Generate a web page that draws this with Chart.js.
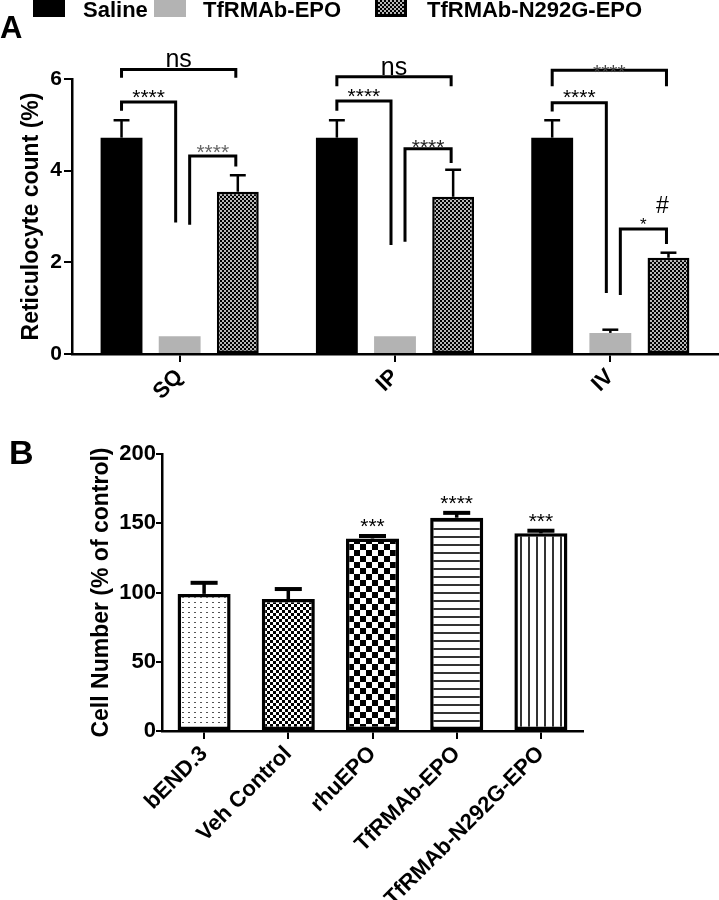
<!DOCTYPE html>
<html>
<head>
<meta charset="utf-8">
<script src="https://cdn.jsdelivr.net/npm/chart.js@4"></script>
<style>
  body { margin: 0; background: #fff; width: 719px; height: 900px; overflow: hidden; position: relative; font-family: "Liberation Sans", Arial, sans-serif; }
  .panel { position: absolute; left: 0; width: 719px; }
  #wrapA { top: 0; height: 400px; }
  #wrapB { top: 400px; height: 500px; }
  .tag { position: absolute; font-weight: bold; color: #000; line-height: 1; }
</style>
</head>
<body>
<div class="panel" id="wrapA"><canvas id="chartA"></canvas></div>
<div class="panel" id="wrapB"><canvas id="chartB"></canvas></div>
<div class="tag" style="left:0;top:12px;font-size:31px">A</div>
<div class="tag" style="left:9px;top:435px;font-size:34px">B</div>
<script>
const FONT = '"Liberation Sans", Arial, sans-serif';

// panel A: reticulocyte count (%)
const routes = ["SQ", "IP", "IV"];
const salineMean = [4.72, 4.72, 4.72];
const salineSem = [0.38, 0.38, 0.38];
const tfrEpoMean = [0.39, 0.39, 0.46];
const tfrEpoSem = [0, 0, 0.07];
const n292gMean = [3.54, 3.43, 2.10];
const n292gSem = [0.36, 0.59, 0.11];

// [route, from bar, to bar, top, left leg end, right leg end, label]
const bracketsA = [
  [0, 0, 2, 6.21, 6.03, 6.03, "ns"],
  [0, 0, 1, 5.50, 5.31, 2.87, "****"],
  [0, 1, 2, 4.32, 2.82, 4.09, "****"],
  [1, 0, 2, 6.05, 5.84, 5.84, "ns"],
  [1, 0, 1, 5.52, 5.31, 2.38, "****"],
  [1, 1, 2, 4.48, 2.45, 4.17, "****"],
  [2, 0, 2, 6.19, 5.84, 5.84, "****"],
  [2, 0, 1, 5.48, 5.29, 1.33, "****"],
  [2, 1, 2, 2.73, 1.29, 2.40, "*"],
];
const bracketLabelDy = [-2, 2, 3, -2, 2, 5, 9, 1, 1];
const bracketLabelColor = ["#000", "#000", "#666", "#000", "#000", "#222", "#444", "#000", "#000"];
// [route, bar, baseline value, label]
const marksA = [[2, 2, 3.08, "#"]];

// panel B: cell number (% of control)
const cellGroups = ["bEND.3", "Veh Control", "rhuEPO", "TfRMAb-EPO", "TfRMAb-N292G-EPO"];
const cellMean = [99, 95.3, 139, 154, 142.7];
const cellSem = [8, 7.2, 1.8, 3.5, 1.9];
const cellStars = ["", "", "***", "****", "***"];

function makePattern(w, h, bg, draw) {
  const c = document.createElement("canvas");
  c.width = w; c.height = h;
  const g = c.getContext("2d");
  g.fillStyle = bg; g.fillRect(0, 0, w, h);
  g.fillStyle = "#000";
  draw(g);
  return g.createPattern(c, "repeat");
}
const checkerA = makePattern(4, 4, "#b8b8b8", g => { g.fillRect(0, 0, 2, 2); g.fillRect(2, 2, 2, 2); });
const dotsB = makePattern(6, 5, "#fff", g => { g.fillStyle = "#555"; g.fillRect(2, 2, 2, 1); });
const fineChecker = makePattern(6, 6, "#fff", g => { g.fillRect(0, 0, 3, 3); g.fillRect(3, 3, 3, 3); });
const bigChecker = makePattern(12, 12, "#fff", g => { g.fillRect(0, 0, 6, 6); g.fillRect(6, 6, 6, 6); });
const hLines = makePattern(8, 8, "#fff", g => { g.fillStyle = "#333"; g.fillRect(0, 0, 8, 2); });
const vLines = makePattern(8, 8, "#fff", g => { g.fillStyle = "#333"; g.fillRect(0, 0, 2, 8); });

const errorBars = {
  id: "errorBars",
  afterDatasetsDraw(chart, args, opts) {
    const ctx = chart.ctx, y = chart.scales.y;
    chart.data.datasets.forEach((ds, di) => {
      if (!ds.sem) return;
      chart.getDatasetMeta(di).data.forEach((bar, i) => {
        const e = ds.sem[i];
        if (!e) return;
        const yTop = y.getPixelForValue(ds.data[i] + e);
        const half = bar.width * opts.cap / 2;
        ctx.save();
        ctx.strokeStyle = "#000";
        ctx.lineWidth = opts.width;
        ctx.beginPath();
        ctx.moveTo(bar.x, bar.y);
        ctx.lineTo(bar.x, yTop);
        ctx.stroke();
        ctx.lineWidth = opts.capWidth;
        ctx.beginPath();
        ctx.moveTo(bar.x - half, yTop);
        ctx.lineTo(bar.x + half, yTop);
        ctx.stroke();
        ctx.restore();
      });
    });
  }
};

const legShiftFrom = [0, 10, 0];
const legShiftTo = [0, -4, -2];

const bracketPlugin = {
  id: "brackets",
  afterDatasetsDraw(chart) {
    const ctx = chart.ctx, y = chart.scales.y;
    const barX = (ds, cat) => chart.getDatasetMeta(ds).data[cat].x;
    ctx.save();
    ctx.strokeStyle = "#000";
    ctx.lineWidth = 3;
    ctx.lineJoin = "miter";
    bracketsA.forEach(([cat, from, to, top, leftEnd, rightEnd, label], i) => {
      const xl = barX(from, cat) + legShiftFrom[from];
      const xr = barX(to, cat) + legShiftTo[to];
      const yt = y.getPixelForValue(top);
      ctx.beginPath();
      ctx.moveTo(xl, y.getPixelForValue(leftEnd));
      ctx.lineTo(xl, yt);
      ctx.lineTo(xr, yt);
      ctx.lineTo(xr, y.getPixelForValue(rightEnd));
      ctx.stroke();
      ctx.fillStyle = bracketLabelColor[i];
      ctx.textAlign = "center";
      ctx.textBaseline = "alphabetic";
      ctx.font = label === "ns" ? "25px " + FONT : label === "*" ? "17px " + FONT : "21px " + FONT;
      ctx.fillText(label, (xl + xr) / 2, yt + bracketLabelDy[i]);
    });
    marksA.forEach(([cat, bar, val, label]) => {
      ctx.fillStyle = "#000";
      ctx.font = "23px " + FONT;
      ctx.textAlign = "center";
      ctx.fillText(label, barX(bar, cat) - 6, y.getPixelForValue(val));
    });
    ctx.restore();
  }
};

const legendA = {
  id: "legendA",
  afterDraw(chart, args, opts) {
    const ctx = chart.ctx;
    ctx.save();
    chart.data.datasets.forEach((ds, i) => {
      const x = opts.boxX[i];
      ctx.fillStyle = ds.backgroundColor;
      ctx.fillRect(x, -3, 32, 20);
      if (ds.borderWidth) {
        ctx.strokeStyle = "#000";
        ctx.lineWidth = 3;
        ctx.strokeRect(x + 1.5, -1.5, 29, 17);
      }
      ctx.fillStyle = "#000";
      ctx.font = "bold 22px " + FONT;
      ctx.textAlign = "left";
      ctx.textBaseline = "alphabetic";
      ctx.fillText(ds.label, opts.textX[i], 17);
    });
    ctx.restore();
  }
};

const starPlugin = {
  id: "stars",
  afterDatasetsDraw(chart) {
    const ctx = chart.ctx, y = chart.scales.y;
    const ds = chart.data.datasets[0];
    ctx.save();
    ctx.fillStyle = "#000";
    ctx.font = "21px " + FONT;
    ctx.textAlign = "center";
    chart.getDatasetMeta(0).data.forEach((bar, i) => {
      if (!cellStars[i]) return;
      ctx.fillText(cellStars[i], bar.x, y.getPixelForValue(ds.data[i] + ds.sem[i]) - 3);
    });
    ctx.restore();
  }
};

function axisStyle(tickFont) {
  return {
    grid: { drawOnChartArea: false, color: "#000", lineWidth: 2, tickLength: 8, offset: false },
    border: { color: "#000", width: 2.5 },
    ticks: { color: "#000", font: { family: FONT, size: tickFont, weight: "bold" }, padding: 2 }
  };
}

new Chart(document.getElementById("chartA"), {
  type: "bar",
  data: {
    labels: routes,
    datasets: [
      { label: "Saline", data: salineMean, sem: salineSem, backgroundColor: "#000", borderWidth: 0 },
      { label: "TfRMAb-EPO", data: tfrEpoMean, sem: tfrEpoSem, backgroundColor: "#b3b3b3", borderWidth: 0 },
      { label: "TfRMAb-N292G-EPO", data: n292gMean, sem: n292gSem, backgroundColor: checkerA, borderColor: "#000", borderWidth: 2.5, borderSkipped: false }
    ]
  },
  options: {
    responsive: true,
    maintainAspectRatio: false,
    animation: false,
    events: [],
    categoryPercentage: 0.81,
    barPercentage: 0.72,
    layout: { padding: { top: 79, right: 1, left: 0, bottom: 0 } },
    plugins: {
      legend: { display: false },
      tooltip: { enabled: false },
      errorBars: { width: 2.5, capWidth: 2.5, cap: 0.38 },
      legendA: { boxX: [33, 154, 375], textX: [83, 203, 427] }
    },
    scales: {
      x: {
        ...axisStyle(22),
        ticks: { color: "#000", font: { family: FONT, size: 22, weight: "bold" }, minRotation: 45, maxRotation: 45, padding: 2 },
        afterFit: s => { s.height = 46; }
      },
      y: {
        ...axisStyle(21),
        min: 0, max: 6,
        ticks: { color: "#000", font: { family: FONT, size: 21, weight: "bold" }, stepSize: 2, padding: 2 },
        title: { display: true, text: "Reticulocyte count (%)", color: "#000", font: { family: FONT, size: 23, weight: "bold" }, padding: { top: 18, bottom: 0 } },
        afterFit: s => { s.width = 72; }
      }
    }
  },
  plugins: [errorBars, bracketPlugin, legendA]
});

new Chart(document.getElementById("chartB"), {
  type: "bar",
  data: {
    labels: cellGroups,
    datasets: [{
      label: "Cell Number",
      data: cellMean,
      sem: cellSem,
      backgroundColor: [dotsB, fineChecker, bigChecker, hLines, vLines],
      borderColor: "#000",
      borderWidth: 3.5,
      borderSkipped: false
    }]
  },
  options: {
    responsive: true,
    maintainAspectRatio: false,
    animation: false,
    events: [],
    categoryPercentage: 1,
    barPercentage: 0.63,
    layout: { padding: { top: 54, right: 136, left: 70, bottom: 0 } },
    plugins: {
      legend: { display: false },
      tooltip: { enabled: false },
      errorBars: { width: 3.5, capWidth: 4, cap: 0.51 }
    },
    scales: {
      x: {
        ...axisStyle(22),
        ticks: { color: "#000", font: { family: FONT, size: 22, weight: "bold" }, minRotation: 45, maxRotation: 45, padding: 2 },
        afterFit: s => { s.height = 169; }
      },
      y: {
        ...axisStyle(22),
        grid: { drawOnChartArea: false, color: "#000", lineWidth: 2, tickLength: 6 },
        min: 0, max: 200,
        ticks: { color: "#000", font: { family: FONT, size: 22, weight: "bold" }, stepSize: 50, padding: 0 },
        title: { display: true, text: "Cell Number (% of control)", color: "#000", font: { family: FONT, size: 23, weight: "bold" }, padding: { top: 18, bottom: 0 } },
        afterFit: s => { s.width = 92; }
      }
    }
  },
  plugins: [errorBars, starPlugin]
});
</script>
</body>
</html>
